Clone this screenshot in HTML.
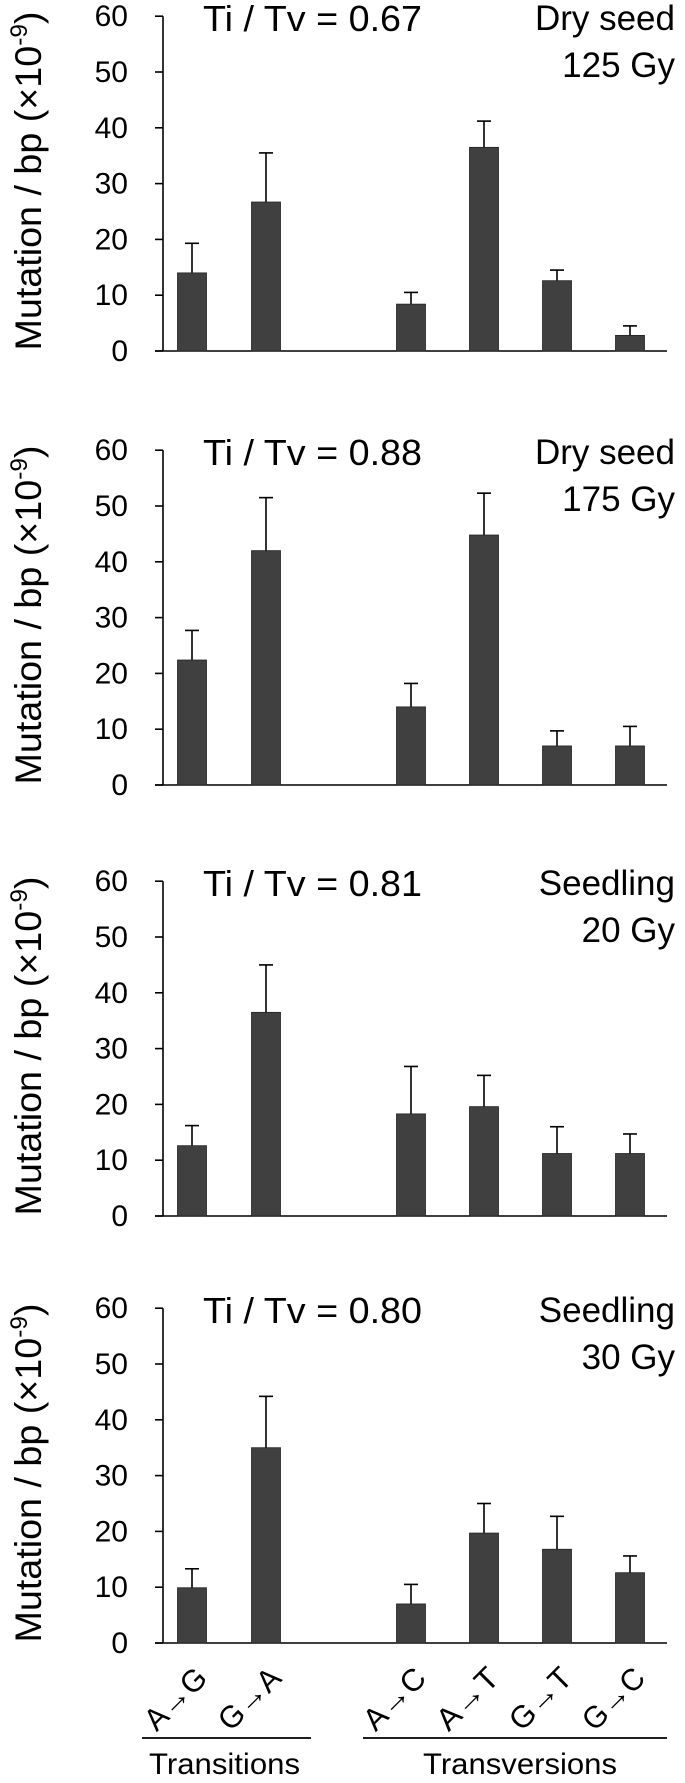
<!DOCTYPE html>
<html><head><meta charset="utf-8"><style>
html,body{margin:0;padding:0;background:#fff;}
svg{display:block;font-family:"Liberation Sans",Arial,sans-serif;}
</style></head><body>
<svg id="chart" width="685" height="1783" viewBox="0 0 685 1783"></svg>
<script>
const categories = ["A\u2192G","G\u2192A","A\u2192C","A\u2192T","G\u2192T","G\u2192C"];
const panelTitles = ["Ti / Tv = 0.67","Ti / Tv = 0.88","Ti / Tv = 0.81","Ti / Tv = 0.80"];
const panelLabel1 = ["Dry seed","Dry seed","Seedling","Seedling"];
const panelLabel2 = ["125 Gy","175 Gy","20 Gy","30 Gy"];
const values125 = [14, 26.7, 8.4, 36.5, 12.6, 2.8];
const errTop125 = [19.3, 35.5, 10.5, 41.2, 14.5, 4.5];
const values175 = [22.4, 42, 14, 44.8, 7, 7];
const errTop175 = [27.7, 51.5, 18.2, 52.3, 9.7, 10.5];
const values20 = [12.6, 36.5, 18.3, 19.6, 11.2, 11.2];
const errTop20 = [16.2, 45, 26.8, 25.2, 16, 14.7];
const values30 = [9.9, 35, 7, 19.7, 16.8, 12.6];
const errTop30 = [13.3, 44.2, 10.5, 25, 22.7, 15.6];
const yTicks = [0,10,20,30,40,50,60];

const seriesVals = [values125, values175, values20, values30];
const seriesErr = [errTop125, errTop175, errTop20, errTop30];
const NS = "http://www.w3.org/2000/svg";
const svg = document.getElementById("chart");
function mk(tag, attrs, parent){const e=document.createElementNS(NS,tag);for(const k in attrs)e.setAttribute(k,attrs[k]);(parent||svg).appendChild(e);return e;}
const axisX = 163, axisEnd = 667;
const slotX = [192, 266, 411, 484, 557, 630];
function xPos(i){return slotX[i];}
const barW = 29;
const pxPerUnit = 5.58;
const bases = [351, 785, 1216, 1643];

for(let p=0;p<4;p++){
  const base = bases[p];
  const yPos = v => base - v*pxPerUnit;
  const g = mk("g",{});
  
  
  const yt = mk("text",{x:0,y:0,transform:`translate(41,${base-170}) rotate(-90)`,"text-anchor":"middle","font-size":"37",textLength:"339",lengthAdjust:"spacingAndGlyphs",fill:"#000"},g);
  
  
  yt.innerHTML = 'Mutation / bp (\u00d710<tspan dy="-14" font-size="24">-9</tspan><tspan dy="14">)</tspan>';
  const ax = mk("line",{x1:axisX,y1:yPos(60),x2:axisX,y2:base,stroke:"#000","stroke-width":"1.6"},g);
  
  
  const bx = mk("line",{x1:axisX-8,y1:base,x2:axisEnd,y2:base,stroke:"#000","stroke-width":"1.6"},g);
  
  
  yTicks.forEach(t=>{
    const tk = mk("line",{x1:axisX-8,y1:yPos(t),x2:axisX,y2:yPos(t),stroke:"#000","stroke-width":"1.6"},g);
    
    
    const tl = mk("text",{x:128,y:yPos(t)+10,"text-anchor":"end","font-size":"30",fill:"#000"},g);
    
    
    tl.textContent = t;
  });
  const ti = mk("text",{x:203,y:base-320,"font-size":"36",textLength:"219",lengthAdjust:"spacingAndGlyphs",fill:"#000"},g);
  
  
  ti.textContent = panelTitles[p];
  const l1 = mk("text",{x:675,y:base-321,"text-anchor":"end","font-size":"35",fill:"#000"},g);
  
  
  l1.textContent = panelLabel1[p];
  const l2 = mk("text",{x:675,y:base-274,"text-anchor":"end","font-size":"35",fill:"#000"},g);
  
  
  l2.textContent = panelLabel2[p];
  const vals = seriesVals[p], errs = seriesErr[p];
  vals.forEach((v,i)=>{
    const cx = xPos(i);
    const el = mk("line",{x1:cx,y1:yPos(errs[i]),x2:cx,y2:yPos(v),stroke:"#000","stroke-width":"1.6"},g);
    
    
    const cap = mk("line",{x1:cx-7,y1:yPos(errs[i]),x2:cx+7,y2:yPos(errs[i]),stroke:"#000","stroke-width":"1.6"},g);
    
    
    const r = mk("rect",{x:cx-barW/2,y:yPos(v),width:barW,height:base-yPos(v),fill:"#404040",stroke:"#222","stroke-width":"0.8"},g);
    
    
  });
}
const lastBase = bases[3];
categories.forEach((c,i)=>{
  const cx = xPos(i);
  const t = mk("text",{x:0,y:0,transform:`translate(${cx+17},${lastBase+37}) rotate(-45)`,"text-anchor":"end","font-size":"31",textLength:"74",lengthAdjust:"spacingAndGlyphs",fill:"#000"});
  
  
  t.textContent = c;
});
const g1 = mk("line",{x1:142,y1:1738,x2:311,y2:1738,stroke:"#000","stroke-width":"1.8"});


const g2 = mk("line",{x1:363,y1:1738,x2:667,y2:1738,stroke:"#000","stroke-width":"1.8"});


const t1 = mk("text",{x:149,y:1774,"font-size":"30",textLength:"151",lengthAdjust:"spacingAndGlyphs",fill:"#000"});


t1.textContent = "Transitions";
const t2 = mk("text",{x:423,y:1774,"font-size":"30",textLength:"194",lengthAdjust:"spacingAndGlyphs",fill:"#000"});


t2.textContent = "Transversions";
</script>
</body></html>
